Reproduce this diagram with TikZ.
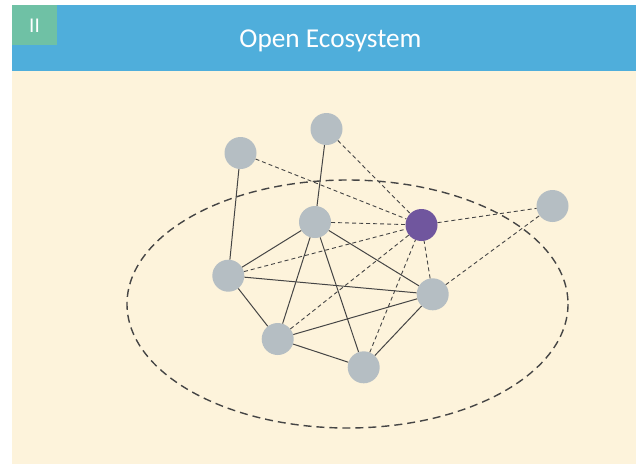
\documentclass[tikz,border=0pt]{standalone}
\usepackage{fontspec}
\setmainfont{Carlito}
\definecolor{hdrblue}{HTML}{4FAEDB}
\definecolor{hdrgreen}{HTML}{6FC1A5}
\definecolor{cream}{HTML}{FDF3DB}
\definecolor{nodegray}{HTML}{B5BEC3}
\definecolor{nodepurple}{HTML}{70569E}
\definecolor{linegray}{HTML}{454545}
\tikzset{
  peer/.style={circle,fill=nodegray,draw=none,minimum size=32pt,inner sep=0pt},
  hub/.style={peer,fill=nodepurple},
  link/.style={draw=linegray,line width=1pt},
  dlink/.style={draw=linegray,line width=0.9pt,dash pattern=on 4pt off 3pt},
  boundary/.style={draw=linegray,line width=1.4pt,dash pattern=on 8pt off 5pt},
}
\begin{document}
\begin{tikzpicture}[x=1pt,y=-1pt]
\useasboundingbox (0,0) rectangle (636,464);
\fill[white] (0,0) rectangle (636,464);
\fill[cream] (12,71) rectangle (636,464);
\fill[hdrblue] (12,5) rectangle (636,71);
\fill[hdrgreen] (12,5) rectangle (57,45);
\node[text=white,font=\fontsize{21}{24}\selectfont,inner sep=0pt] (num) at (34.5,25.5) {II};
\node[text=white,font=\fontsize{27.3}{30}\selectfont,anchor=base,inner sep=0pt] (title) at (330.5,47.5) {Open Ecosystem};

\draw[boundary] (347.5,304) ellipse [x radius=220.5, y radius=124];

\node[peer] (A) at (240.5,153) {};
\node[peer] (B) at (326.5,129) {};
\node[peer] (C) at (315,222) {};
\node[hub]  (P) at (421.5,225) {};
\node[peer] (R) at (552.5,206) {};
\node[peer] (L) at (228.3,275.7) {};
\node[peer] (Q) at (432.7,294.3) {};
\node[peer] (D) at (277.7,339) {};
\node[peer] (E) at (363.7,367.3) {};

\draw[link] (A) -- (L);
\draw[link] (B) -- (C);
\draw[link] (C) -- (L);
\draw[link] (C) -- (D);
\draw[link] (C) -- (E);
\draw[link] (C) -- (Q);
\draw[link] (L) -- (Q);
\draw[link] (L) -- (D);
\draw[link] (D) -- (Q);
\draw[link] (D) -- (E);
\draw[link] (E) -- (Q);

\draw[dlink] (A) -- (P);
\draw[dlink] (B) -- (P);
\draw[dlink] (C) -- (P);
\draw[dlink] (P) -- (R);
\draw[dlink] (L) -- (P);
\draw[dlink] (D) -- (P);
\draw[dlink] (E) -- (P);
\draw[dlink] (Q) -- (P);
\draw[dlink] (Q) -- (R);
\end{tikzpicture}
\end{document}
